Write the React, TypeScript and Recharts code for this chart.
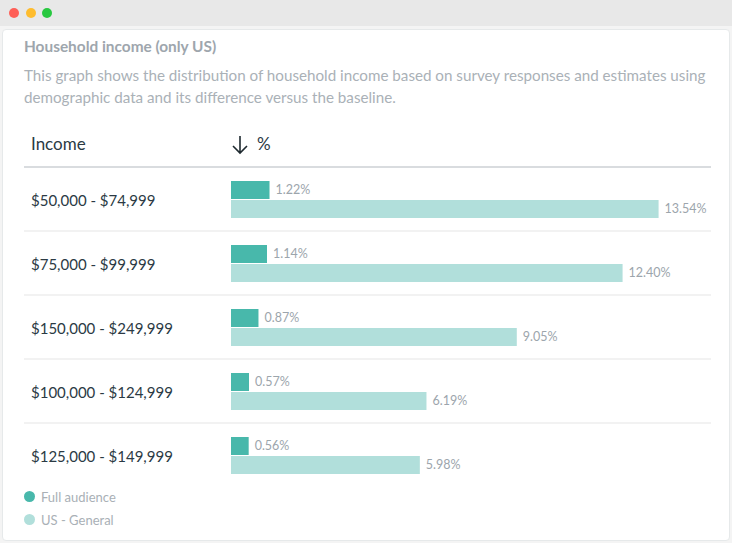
import React from "react";
import { BarChart, Bar, XAxis, YAxis, LabelList, Legend } from "recharts";

const categories = [
  "$50,000 - $74,999",
  "$75,000 - $99,999",
  "$150,000 - $249,999",
  "$100,000 - $124,999",
  "$125,000 - $149,999",
];
const fullAudience = [1.22, 1.14, 0.87, 0.57, 0.56];
const usGeneral = [13.54, 12.4, 9.05, 6.19, 5.98];
const seriesNames = ["Full audience", "US - General"];

const data = categories.map((c, i) => ({ income: c, full: fullAudience[i], us: usGeneral[i] }));

const FONT = "Lato, 'Open Sans', sans-serif";
const CHART_W = 687;

const IncomeTick = (props: any) => {
  const { y, payload, index } = props;
  return (
    <g>
      {index > 0 && (
        <line x1={0} x2={CHART_W} y1={y - 32} y2={y - 32} stroke="#eeeeee" strokeWidth={1.5} />
      )}
      <text x={7} y={y + 0.5} dominantBaseline="central" fontSize={15} fill="#2b3a44" fontFamily={FONT}>
        {payload.value}
      </text>
    </g>
  );
};

const LegendContent = (props: any) => {
  const { payload } = props;
  return (
    <div style={{ fontFamily: FONT }}>
      {(payload || []).map((p: any, i: number) => (
        <div key={i} style={{ display: "flex", alignItems: "center", height: 23 }}>
          <span
            style={{
              display: "inline-block",
              width: 11,
              height: 11,
              borderRadius: "50%",
              background: p.color,
              marginRight: 6,
            }}
          />
          <span style={{ fontSize: 13, color: "#a9b0b6" }}>{p.value}</span>
        </div>
      ))}
    </div>
  );
};

export default function App() {
  return (
    <div
      style={{
        position: "absolute",
        left: 0,
        top: 0,
        width: 732,
        height: 543,
        background: "#f4f4f4",
        overflow: "hidden",
        fontFamily: FONT,
      }}
    >
      <div style={{ position: "absolute", left: 0, top: 0, width: 732, height: 26, background: "#e8e8e8" }}>
        <span style={{ position: "absolute", left: 9, top: 8, width: 10, height: 10, borderRadius: "50%", background: "#fe5f57" }} />
        <span style={{ position: "absolute", left: 26, top: 8, width: 10, height: 10, borderRadius: "50%", background: "#febc2e" }} />
        <span style={{ position: "absolute", left: 42, top: 8, width: 10, height: 10, borderRadius: "50%", background: "#28c840" }} />
      </div>
      <div
        style={{
          position: "absolute",
          left: 2,
          top: 29,
          width: 726,
          height: 510,
          background: "#ffffff",
          border: "1px solid #e6e9ea",
          borderRadius: 4,
        }}
      />
      <div style={{ position: "absolute", left: 24, top: 37, fontSize: 15.4, fontWeight: 700, color: "#9ea6ad", lineHeight: "18px" }}>
        Household income (only US)
      </div>
      <div style={{ position: "absolute", left: 24, top: 64, width: 700, fontSize: 15.2, color: "#aab1b7", lineHeight: "22px" }}>
        This graph shows the distribution of household income based on survey responses and estimates using demographic data and its difference versus the baseline.
      </div>
      <div style={{ position: "absolute", left: 31, top: 133, fontSize: 17, color: "#2b3a44", lineHeight: "22px" }}>Income</div>
      <svg style={{ position: "absolute", left: 230, top: 134 }} width={22} height={22}>
        <path d="M10 2 L10 19 M3 12 L10 19 L17 12" stroke="#1f2a30" strokeWidth={1.6} fill="none" />
      </svg>
      <div style={{ position: "absolute", left: 257, top: 133, fontSize: 17, color: "#2b3a44", lineHeight: "22px" }}>%</div>
      <div style={{ position: "absolute", left: 24, top: 166, width: 687, height: 2, background: "#d9dcdf" }} />
      <div style={{ position: "absolute", left: 24, top: 167 }}>
        <BarChart
          width={CHART_W}
          height={375}
          data={data}
          layout="vertical"
          margin={{ top: 0, right: 0, bottom: 0, left: 0 }}
          barSize={18}
          barGap={1}
        >
          <XAxis type="number" hide domain={[0, 15.2]} allowDataOverflow />
          <YAxis
            type="category"
            dataKey="income"
            width={207}
            axisLine={false}
            tickLine={false}
            tick={<IncomeTick />}
            interval={0}
          />
          <Legend
            verticalAlign="bottom"
            align="left"
            height={55}
            content={<LegendContent />}
            wrapperStyle={{ left: 0, top: 318, width: 200 }}
          />
          <Bar dataKey="full" name={seriesNames[0]} fill="#48b8ab" isAnimationActive={false}>
            <LabelList
              dataKey="full"
              position="right"
              offset={6}
              fontSize={12.5}
              fill="#9ca5ac"
              fontFamily={FONT}
              formatter={(v: any) => Number(v).toFixed(2) + "%"}
            />
          </Bar>
          <Bar dataKey="us" name={seriesNames[1]} fill="#b1dfdb" isAnimationActive={false}>
            <LabelList
              dataKey="us"
              position="right"
              offset={6}
              fontSize={12.5}
              fill="#9ca5ac"
              fontFamily={FONT}
              formatter={(v: any) => Number(v).toFixed(2) + "%"}
            />
          </Bar>
        </BarChart>
      </div>
    </div>
  );
}
